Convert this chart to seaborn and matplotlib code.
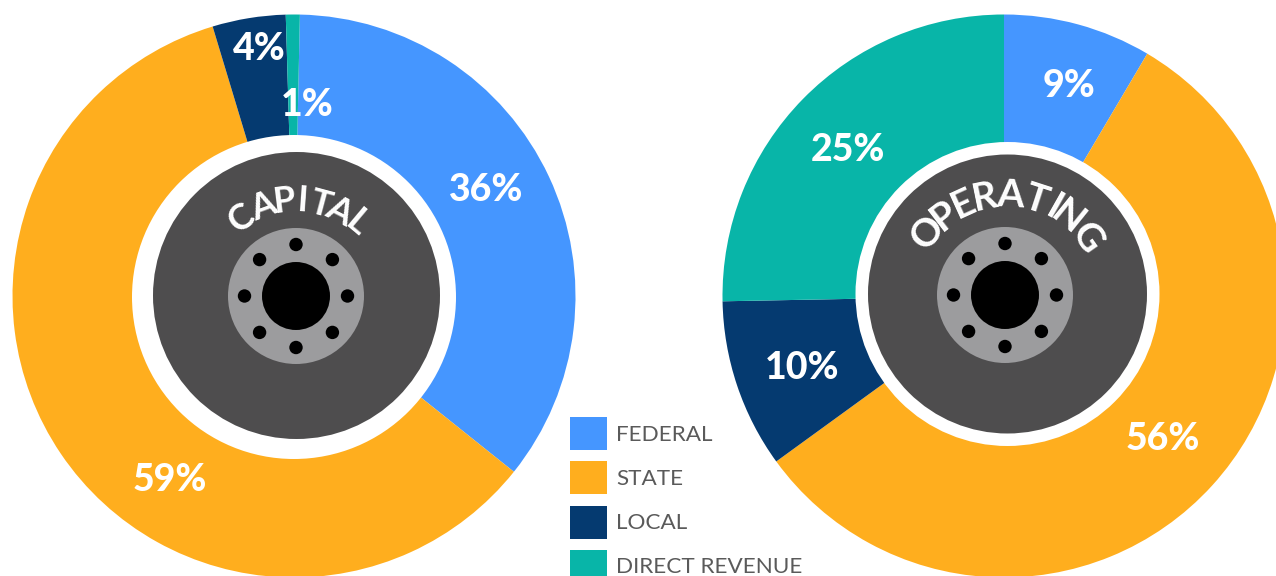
import numpy as np
import matplotlib
matplotlib.use("Agg")
import matplotlib.pyplot as plt
from matplotlib.patches import Circle, Patch
import seaborn as sns

# --- data ---
sources = ["FEDERAL", "STATE", "LOCAL", "DIRECT REVENUE"]
capital_labels = [36, 59, 4, 1]
operating_labels = [9, 56, 10, 25]
# slice sizes (percent of the circle)
capital_shares = [35.4, 59.6, 4.2, 0.8]
operating_shares = [8.5, 56.5, 9.7, 25.3]
capital_title = "CAPITAL"
operating_title = "OPERATING"
source_colors = ["#4596ff", "#ffae1e", "#053a70", "#08b5a8"]

# --- layout (pixels, y down) ---
W, H = 1276, 576
capital_label_xy = [(486, 190), (170, 480), (259, 49), (307, 105)]
operating_label_xy = [(1069, 86), (1163, 439), (802, 368), (848, 150)]
capital_letter_angles = [-35, -20, -7, 4, 15, 27, 40]
operating_letter_angles = [-51, -37.5, -24.5, -11.5, 3, 18, 29.5, 39, 55]

sns.set_theme(style="white")
plt.rcParams["font.family"] = ["Lato", "DejaVu Sans"]
palette = sns.color_palette(source_colors)

fig = plt.figure(figsize=(W / 100, H / 100), dpi=100, facecolor="white")


def wheel(shares, labels, cx, cy, R, start, white, dark, hub, label_xy, title, angles, text_r, fs):
    ax = fig.add_axes([(cx - R) / W, 1 - (cy + R) / H, 2 * R / W, 2 * R / H])
    ax.pie(shares, colors=palette, startangle=start, counterclock=False, radius=1,
           wedgeprops=dict(linewidth=0), normalize=True)
    ax.set_xlim(-1, 1)
    ax.set_ylim(-1, 1)
    ax.set_aspect("equal")
    ax.axis("off")

    def add(x, y, r, c, z):
        ax.add_patch(Circle(((x - cx) / R, (cy - y) / R), r / R, fc=c, ec="none", zorder=z, clip_on=False))

    add(*white, "white", 5)
    add(*dark, "#4e4d4e", 6)
    hx, hy = hub
    add(hx, hy, 68, "#9c9c9e", 7)
    add(hx, hy, 34, "black", 8)
    for a in np.deg2rad(np.arange(0, 360, 45)):
        add(hx + 51.5 * np.cos(a), hy + 51.5 * np.sin(a), 6.7, "black", 8)

    for v, (x, y) in zip(labels, label_xy):
        fig.text(x / W, 1 - y / H, f"{v}%", color="white", fontsize=27, fontweight=900,
                 ha="center", va="center", zorder=20)

    for ch, a in zip(title, angles):
        t = np.deg2rad(a)
        x = hx + text_r * np.sin(t)
        y = hy - text_r * np.cos(t)
        fig.text(x / W, 1 - y / H, ch, color="white", fontsize=fs, fontweight="bold", rotation=-a,
                 rotation_mode="anchor", ha="center", va="center", zorder=20)


wheel(capital_shares, capital_labels, 294, 296, 281.5, 88.8, (294, 297, 162), (296.5, 295.5, 143.5), (296, 296),
      capital_label_xy, capital_title, capital_letter_angles, 95, 26)
wheel(operating_shares, operating_labels, 1004, 296, 281.5, 90, (1007.5, 294, 152), (1007.5, 294, 139.5), (1005, 295),
      operating_label_xy, operating_title, operating_letter_angles, 100, 28)

fs = 16.2
fig.legend(handles=[Patch(fc=c, ec="none", label=s) for c, s in zip(palette, sources)],
           loc="upper left", bbox_to_anchor=(570 / W, 1 - 417 / H), frameon=False, fontsize=fs,
           borderpad=0, borderaxespad=0, handlelength=1.644, handleheight=1.88,
           labelspacing=0.5, handletextpad=0.4, labelcolor="#5a5a5a")

fig.savefig("out.png", dpi=100, facecolor="white")
